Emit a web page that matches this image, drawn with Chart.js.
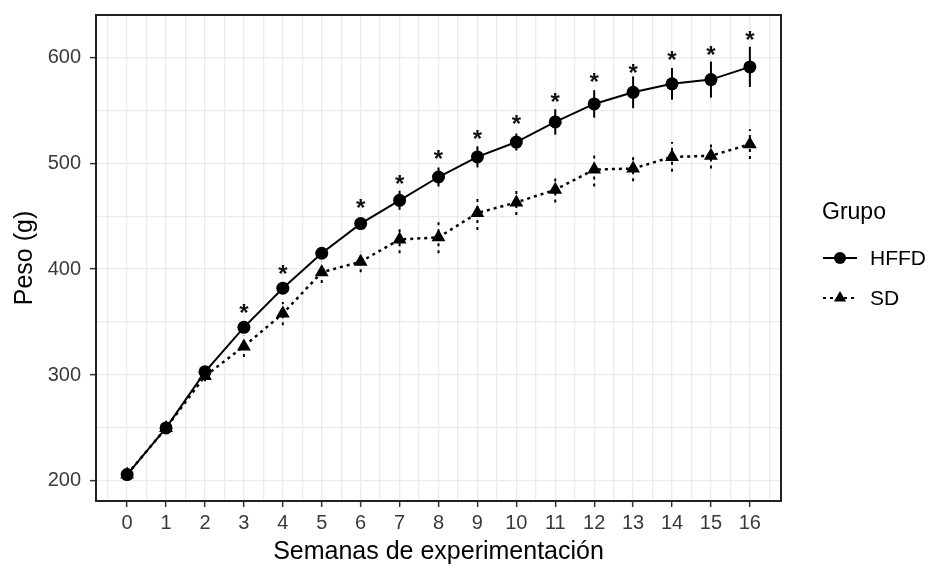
<!DOCTYPE html>
<html>
<head>
<meta charset="utf-8">
<script src="https://cdn.jsdelivr.net/npm/chart.js@4.4.0/dist/chart.umd.min.js"></script>
<style>
    html, body { margin: 0; padding: 0; background: #fff; }
    #wrap { width: 933px; height: 568px; position: relative; }
</style>
</head>
<body>
<div id="wrap"><canvas id="lineChart"></canvas></div>
<script>
// datos
var semanas = [0, 1, 2, 3, 4, 5, 6, 7, 8, 9, 10, 11, 12, 13, 14, 15, 16];
var pesoHFFD = [206, 250, 303, 345, 382, 415, 443, 465, 487, 506, 520, 539, 556, 567, 575, 579, 591];
var errHFFD = [3, 3, 4, 4, 4, 3, 5, 9, 9, 10, 8, 12, 13, 15, 15, 17, 19];
var pesoSD = [206, 250, 299, 327, 358, 397, 407, 428, 430, 453, 463, 475, 494, 495, 506, 507, 518];
var errSD = [3, 3, 5, 10, 11, 10, 10, 13, 15, 16, 12, 12, 16, 12, 14, 12, 14];
// posicion (en g) de los asteriscos de significancia
var asteriscos = [null, null, null, 364, 401, null, 463, 486, 509, 528, 542, 563, 582, 591, 603, 608, 622];
var yTicks = [200, 300, 400, 500, 600];

var FUENTE = "'Liberation Sans', Arial, sans-serif";

function puntos(valores) {
    var arr = [];
    for (var i = 0; i < semanas.length; i++) {
        arr.push({ x: semanas[i], y: valores[i] });
    }
    return arr;
}

// ticks mayores + menores (mitad del paso), como en ggplot; solo dentro del rango
function conMenores(mayores, min, max) {
    var paso = mayores[1] - mayores[0];
    var vals = [mayores[0] - paso / 2];
    for (var i = 0; i < mayores.length; i++) {
        vals.push(mayores[i]);
        vals.push(mayores[i] + paso / 2);
    }
    return vals.filter(function (v) { return v >= min && v <= max; })
               .map(function (v) { return { value: v }; });
}

function esMayor(lista, v) {
    return lista.indexOf(v) !== -1;
}

function sinRelleno(scale) {
    scale.paddingTop = 0;
    scale.paddingBottom = 0;
    scale.paddingLeft = 0;
    scale.paddingRight = 0;
}

var barrasError = {
    id: 'barrasError',
    beforeDatasetsDraw: function (chart) {
        var ctx = chart.ctx, xs = chart.scales.x, ys = chart.scales.y;
        chart.data.datasets.forEach(function (ds) {
            ctx.save();
            ctx.strokeStyle = '#000';
            ctx.lineWidth = 2;
            ctx.setLineDash(ds.borderDash || []);
            ds.data.forEach(function (p, i) {
                var e = ds.errores[i];
                var x = xs.getPixelForValue(p.x);
                ctx.beginPath();
                ctx.moveTo(x, ys.getPixelForValue(p.y - e));
                ctx.lineTo(x, ys.getPixelForValue(p.y + e));
                ctx.stroke();
            });
            ctx.restore();
        });
    }
};

var marcasSignif = {
    id: 'marcasSignif',
    afterDatasetsDraw: function (chart) {
        var ctx = chart.ctx, xs = chart.scales.x, ys = chart.scales.y;
        var tam = 24;
        ctx.save();
        ctx.fillStyle = '#111';
        ctx.font = 'bold ' + tam + 'px ' + FUENTE;
        ctx.textAlign = 'center';
        ctx.textBaseline = 'alphabetic';
        for (var i = 0; i < semanas.length; i++) {
            if (asteriscos[i] === null) continue;
            ctx.fillText('*', xs.getPixelForValue(semanas[i]), ys.getPixelForValue(asteriscos[i]) + tam * 0.57);
        }
        ctx.restore();
    }
};

var bordePanel = {
    id: 'bordePanel',
    afterDraw: function (chart) {
        var a = chart.chartArea, ctx = chart.ctx;
        ctx.save();
        ctx.strokeStyle = '#222';
        ctx.lineWidth = 2;
        ctx.strokeRect(a.left, a.top, a.right - a.left, a.bottom - a.top);
        ctx.restore();
    }
};

var leyenda = {
    id: 'leyenda',
    afterDraw: function (chart) {
        var ctx = chart.ctx;
        var x0 = 823, x1 = 857, xm = 840;
        ctx.save();
        ctx.fillStyle = '#000';
        ctx.textBaseline = 'middle';
        ctx.textAlign = 'left';
        ctx.font = '23px ' + FUENTE;
        ctx.fillText('Grupo', 822, 213);
        ctx.font = '21px ' + FUENTE;
        var filas = [258, 298];
        chart.data.datasets.forEach(function (ds, i) {
            var y = filas[i];
            ctx.strokeStyle = '#000';
            ctx.lineWidth = 2;
            ctx.setLineDash(ds.borderDash || []);
            ctx.beginPath();
            ctx.moveTo(x0, y);
            ctx.lineTo(x1, y);
            ctx.stroke();
            ctx.setLineDash([]);
            ctx.beginPath();
            if (ds.pointStyle === 'triangle') {
                var r = 7;
                ctx.moveTo(xm, y - r);
                ctx.lineTo(xm + r * 0.866, y + r / 2);
                ctx.lineTo(xm - r * 0.866, y + r / 2);
                ctx.closePath();
            } else {
                ctx.arc(xm, y, 6, 0, Math.PI * 2);
            }
            ctx.fill();
            ctx.fillText(ds.label, 870, y + 1);
        });
        ctx.restore();
    }
};

function Charts() {
    var lineCanvas = document.getElementById('lineChart').getContext('2d');

    var lineData = {
        datasets: [
            {
                label: 'HFFD',
                data: puntos(pesoHFFD),
                errores: errHFFD,
                borderColor: '#000',
                backgroundColor: '#000',
                borderWidth: 2,
                pointStyle: 'circle',
                pointRadius: 6.5,
                pointBorderWidth: 0,
                tension: 0
            },
            {
                label: 'SD',
                data: puntos(pesoSD),
                errores: errSD,
                borderColor: '#000',
                backgroundColor: '#000',
                borderWidth: 2.5,
                borderDash: [3, 4],
                pointStyle: 'triangle',
                pointRadius: 8,
                pointBorderWidth: 0,
                tension: 0
            }
        ]
    };

    var lineOptions = {
        responsive: true,
        maintainAspectRatio: false,
        animation: false,
        layout: { padding: { left: 0, right: 152, top: 15, bottom: 0 } },
        plugins: {
            legend: { display: false },
            tooltip: { enabled: false }
        },
        scales: {
            x: {
                type: 'linear',
                min: -0.8,
                max: 16.8,
                afterBuildTicks: function (scale) { scale.ticks = conMenores(semanas, -0.8, 16.8); },
                afterFit: function (scale) { scale.height = 67; sinRelleno(scale); },
                grid: {
                    color: '#ebebeb',
                    lineWidth: 1.3,
                    tickLength: 6,
                    tickWidth: 1.5,
                    tickColor: function (c) {
                        return c.tick && esMayor(semanas, c.tick.value) ? '#333' : 'rgba(0,0,0,0)';
                    }
                },
                border: { display: true, color: '#222', width: 2 },
                ticks: {
                    autoSkip: false,
                    maxRotation: 0,
                    padding: 4,
                    color: '#3a3a3a',
                    font: { family: FUENTE, size: 20 },
                    callback: function (v) { return esMayor(semanas, v) ? String(v) : ''; }
                },
                title: {
                    display: true,
                    text: 'Semanas de experimentación',
                    color: '#000',
                    font: { family: FUENTE, size: 25 },
                    padding: { top: 0, bottom: 1 }
                }
            },
            y: {
                type: 'linear',
                min: 181,
                max: 640,
                afterBuildTicks: function (scale) { scale.ticks = conMenores(yTicks, 181, 640); },
                afterFit: function (scale) { scale.width = 96; sinRelleno(scale); },
                grid: {
                    color: '#ebebeb',
                    lineWidth: 1.3,
                    tickLength: 6,
                    tickWidth: 1.5,
                    tickColor: function (c) {
                        return c.tick && esMayor(yTicks, c.tick.value) ? '#333' : 'rgba(0,0,0,0)';
                    }
                },
                border: { display: true, color: '#222', width: 2 },
                ticks: {
                    autoSkip: false,
                    padding: 9,
                    color: '#3a3a3a',
                    font: { family: FUENTE, size: 20 },
                    callback: function (v) { return esMayor(yTicks, v) ? String(v) : ''; }
                },
                title: {
                    display: true,
                    text: 'Peso (g)',
                    color: '#000',
                    font: { family: FUENTE, size: 25 },
                    padding: { top: 10, bottom: 0 }
                }
            }
        }
    };

    new Chart(lineCanvas, {
        type: 'line',
        data: lineData,
        options: lineOptions,
        plugins: [barrasError, marcasSignif, bordePanel, leyenda]
    });
}

Charts();
</script>
</body>
</html>
